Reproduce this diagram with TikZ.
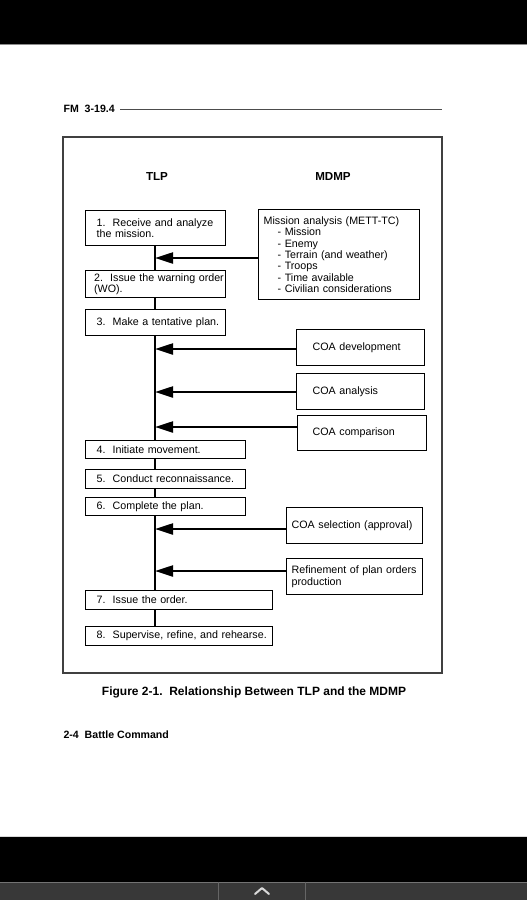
\documentclass[tikz,border=0pt]{standalone}
\usepackage{fontspec}
\setmainfont{Liberation Sans}
\usetikzlibrary{
    arrows.meta,
    positioning
}
\newcommand\tlpfont{\fontsize{10.7}{11.3}\selectfont}
\newcommand\headfont{\fontsize{11.6}{13}\selectfont\bfseries}
\definecolor{barcolor}{HTML}{383838}
\tikzset{
    tlpbox/.style={draw, line width=1.3pt, anchor=north west, align=left,
        inner xsep=0pt, inner ysep=0pt, font=\tlpfont,
        execute at begin node={\setlength{\leftskip}{#1}\hfuzz=20pt}},
    tlpbox/.default=11pt,
    trunk/.style={line width=2pt},
    feed/.style={-{Triangle[length=18pt, width=11pt]}, line width=2.2pt},
    heading/.style={font=\headfont},
    frame/.style={draw=black!75, line width=1.4pt},
    pagetext/.style={font=\fontsize{10.6}{12}\selectfont\bfseries, anchor=west},
    rule/.style={draw=black!70, line width=1pt}
}

\begin{document}
\begin{tikzpicture}[x=1pt, y=-1pt]
    \useasboundingbox (0,0) rectangle (527,900);
    \fill[white] (0,0) rectangle (527,900);
    % screen bars
    \fill[black] (0,0) rectangle (527,44);
    \draw[black!45] (0,44) -- (527,44);
    \fill[black] (0,836) rectangle (527,882);
    \draw[black!15] (0,836) -- (527,836);
    \fill[barcolor] (0,882) rectangle (527,900);
    \draw[black!55] (0,882) -- (527,882);
    \draw[black!60] (218,882) -- (218,900);
    \draw[black!60] (305,882) -- (305,900);
    \draw[white!85!black, line width=2pt, line cap=round, line join=round]
        (255,894) -- (262,888) -- (269,894);

    % page header and footer
    \node[pagetext] (fm) at (60,109) {FM\ \ 3-19.4};
    \coordinate (rulestart) at (120,109);
    \coordinate (ruleend) at (442,109);
    \draw[rule] (rulestart) -- (ruleend);
    \draw[frame] (63,137) rectangle (442,673);
    \node[font=\fontsize{12}{14}\selectfont\bfseries] (caption) at (254,692)
        {Figure 2-1.\ \ Relationship Between TLP and the MDMP};
    \node[pagetext] (footer) at (60,735) {2-4\ \ Battle Command};

    % column headings
    \node[heading] (tlp) at (157,177) {TLP};
    \node[heading] (mdmp) at (333,177) {MDMP};

    % TLP steps
    \node[tlpbox, text width=140pt, minimum height=35pt] (s1) at (85,210)
        {1.\ \ Receive and analyze\\the mission.};
    \node[tlpbox=8.5pt, text width=140pt, minimum height=27pt] (s2) at (85,270)
        {\mbox{2.\ \ Issue the warning order}\\(WO).};
    \node[tlpbox, text width=140pt, minimum height=26pt] (s3) at (85,309)
        {3.\ \ Make a tentative plan.};
    \node[tlpbox, text width=160pt, minimum height=18pt] (s4) at (85,440)
        {4.\ \ Initiate movement.};
    \node[tlpbox, text width=160pt, minimum height=19pt] (s5) at (85,469)
        {5.\ \ Conduct reconnaissance.};
    \node[tlpbox, text width=160pt, minimum height=18pt] (s6) at (85,497)
        {6.\ \ Complete the plan.};
    \node[tlpbox, text width=187pt, minimum height=19pt] (s7) at (85,590)
        {7.\ \ Issue the order.};
    \node[tlpbox, text width=187pt, minimum height=19pt] (s8) at (85,626)
        {8.\ \ Supervise, refine, and rehearse.};

    % MDMP steps
    \node[tlpbox=5pt, text width=161pt, minimum height=90pt] (analysis) at (258,209)
        {Mission analysis (METT-TC)\\
         \hspace*{14pt}- Mission\\
         \hspace*{14pt}- Enemy\\
         \hspace*{14pt}- Terrain (and weather)\\
         \hspace*{14pt}- Troops\\
         \hspace*{14pt}- Time available\\
         \hspace*{14pt}- Civilian considerations};
    \node[tlpbox=16pt, text width=128pt, minimum height=36pt] (coadev) at (296,329)
        {COA development};
    \node[tlpbox=16pt, text width=128pt, minimum height=36pt] (coaana) at (296,373)
        {COA analysis};
    \node[tlpbox=15pt, text width=129pt, minimum height=35pt] (coacmp) at (297,415)
        {COA comparison};
    \node[tlpbox=5pt, text width=136pt, minimum height=36pt] (coasel) at (286,507)
        {COA selection (approval)};
    \node[tlpbox=5pt, text width=136pt, minimum height=36pt] (refine) at (286,558)
        {Refinement of plan orders\\production};

    % trunk line
    \coordinate (trunk) at (155,0);
    \draw[trunk] (s1.south -| trunk) -- (s2.north -| trunk);
    \draw[trunk] (s2.south -| trunk) -- (s3.north -| trunk);
    \draw[trunk] (s3.south -| trunk) -- (s4.north -| trunk);
    \draw[trunk] (s4.south -| trunk) -- (s5.north -| trunk);
    \draw[trunk] (s5.south -| trunk) -- (s6.north -| trunk);
    \draw[trunk] (s6.south -| trunk) -- (s7.north -| trunk);
    \draw[trunk] (s7.south -| trunk) -- (s8.north -| trunk);

    % inputs from the MDMP
    \coordinate (in1) at (155,258);
    \coordinate (in2) at (155,349);
    \coordinate (in3) at (155,392);
    \coordinate (in4) at (155,427);
    \coordinate (in5) at (155,529);
    \coordinate (in6) at (155,571);
    \draw[feed] (analysis.west |- in1) -- (in1);
    \draw[feed] (coadev.west |- in2) -- (in2);
    \draw[feed] (coaana.west |- in3) -- (in3);
    \draw[feed] (coacmp.west |- in4) -- (in4);
    \draw[feed] (coasel.west |- in5) -- (in5);
    \draw[feed] (refine.west |- in6) -- (in6);
\end{tikzpicture}
\end{document}
